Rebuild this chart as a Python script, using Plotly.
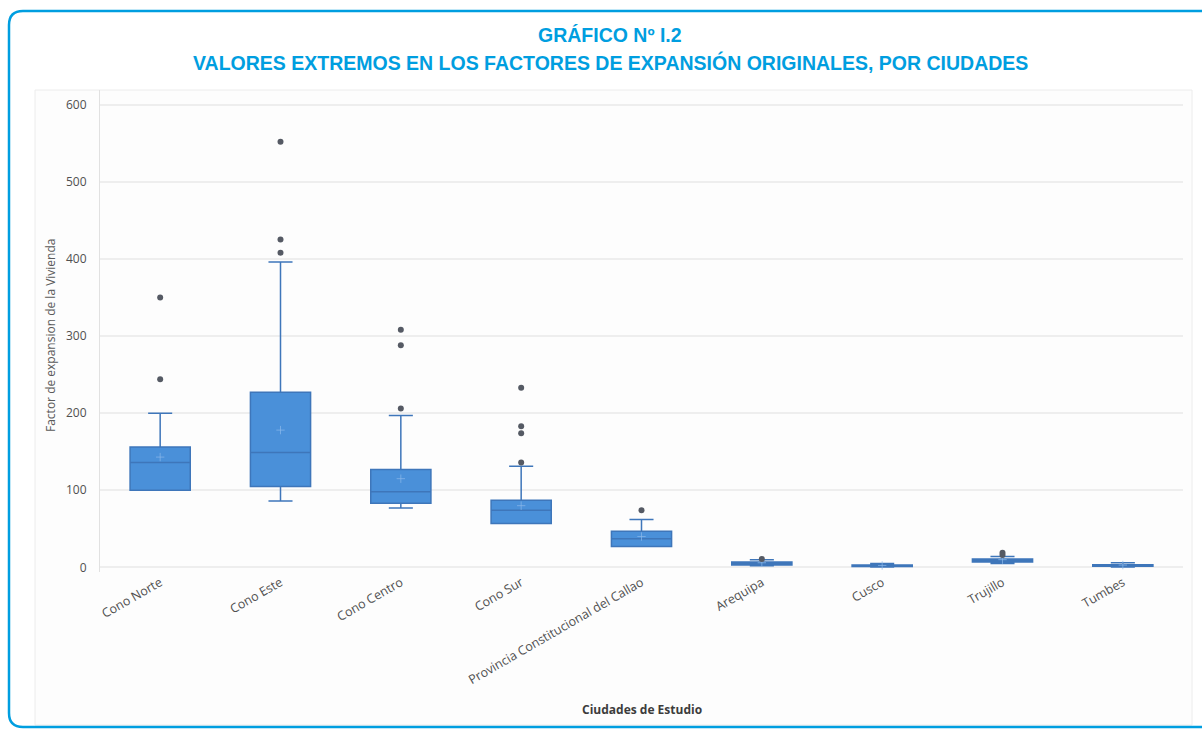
import plotly.graph_objects as go

# ---- data ----
categories = ["Cono Norte", "Cono Este", "Cono Centro", "Cono Sur",
              "Provincia Constitucional del Callao", "Arequipa", "Cusco",
              "Trujillo", "Tumbes"]
q1_vals      = [100, 105, 83, 57, 27, 3, 1, 7, 1.5]
median_vals  = [136, 149, 98, 74, 37, 5, 2, 9, 2.5]
q3_vals      = [156, 227, 127, 87, 47, 7, 3, 11, 3.5]
lower_vals   = [100, 86, 77, 57, 27, 2, 0.5, 5, 0.5]
upper_vals   = [200, 396, 197, 131, 62, 10, 5, 14, 6]
mean_vals    = [143, 178, 115, 80, 40, 6, 2.5, 10, 3]

outlier_cats = ["Cono Norte", "Cono Norte",
                "Cono Este", "Cono Este", "Cono Este",
                "Cono Centro", "Cono Centro", "Cono Centro",
                "Cono Sur", "Cono Sur", "Cono Sur", "Cono Sur",
                "Provincia Constitucional del Callao",
                "Arequipa", "Trujillo", "Trujillo"]
outlier_vals = [350, 244,
                552, 425, 408,
                308, 288, 206,
                233, 183, 174, 136,
                74,
                11, 19, 16]

title_line1 = "GRÁFICO Nº I.2"
title_line2 = "VALORES EXTREMOS EN LOS FACTORES DE EXPANSIÓN ORIGINALES, POR CIUDADES"
y_title = "Factor de expansion de la Vivienda"
x_title = "Ciudades de Estudio"
y_ticks = [0, 100, 200, 300, 400, 500, 600]

# ---- layout geometry (pixels) ----
W, H = 1202, 729
L, R, T, B = 100, 19, 90, 157
PW, PH = W - L - R, H - T - B


def px(x):
    return (x - L) / PW


def py(y):
    return (H - B - y) / PH


BLUE = "rgb(0,158,224)"
TXT_FONT = "Open Sans, sans-serif"

fig = go.Figure()

fig.add_trace(go.Box(
    x=categories,
    q1=q1_vals, median=median_vals, q3=q3_vals,
    lowerfence=lower_vals, upperfence=upper_vals,
    boxpoints=False,
    fillcolor="rgb(74,144,217)",
    line=dict(color="rgb(62,118,186)", width=1.5),
    whiskerwidth=0.4,
    width=0.5,
    showlegend=False,
    hoverinfo="skip",
))

fig.add_trace(go.Scatter(
    x=categories, y=mean_vals, mode="markers",
    marker=dict(symbol="cross-thin", size=6,
                line=dict(color="rgba(140,185,235,0.7)", width=1)),
    showlegend=False, hoverinfo="skip",
))

fig.add_trace(go.Scatter(
    x=outlier_cats, y=outlier_vals, mode="markers",
    marker=dict(color="rgb(85,90,100)", size=6),
    showlegend=False, hoverinfo="skip",
))

# frame with rounded corners (blue) and inner light panel
r = 14
x0, x1 = px(9), px(1215)
y0, y1 = py(11), py(727)
rx, ry = r / PW, r / PH
frame_path = (f"M {x0+rx},{y0} L {x1},{y0} M {x0+rx},{y0} "
              f"Q {x0},{y0} {x0},{y0-ry} L {x0},{y1+ry} "
              f"Q {x0},{y1} {x0+rx},{y1} L {x1},{y1}")

fig.update_layout(
    width=W, height=H,
    margin=dict(l=L, r=R, t=T, b=B),
    paper_bgcolor="white",
    plot_bgcolor="white",
    shapes=[
        dict(type="rect", xref="paper", yref="paper",
             x0=px(35), x1=px(1192), y0=py(90), y1=py(725),
             line=dict(color="rgb(236,236,236)", width=1),
             fillcolor="rgb(253,253,253)", layer="below"),
        dict(type="path", xref="paper", yref="paper", path=frame_path,
             line=dict(color=BLUE, width=2.5)),
    ],
    annotations=[
        dict(text=f"<b>{title_line1}</b>", xref="paper", yref="paper",
             x=px(610), y=py(35), showarrow=False,
             xanchor="center", yanchor="middle",
             font=dict(family="Liberation Sans Narrow, Arial Narrow, Liberation Sans, sans-serif",
                       size=19.5, color=BLUE)),
        dict(text=f"<b>{title_line2}</b>", xref="paper", yref="paper",
             x=px(610), y=py(63), showarrow=False,
             xanchor="center", yanchor="middle",
             font=dict(family="Liberation Sans Narrow, Arial Narrow, Liberation Sans, sans-serif",
                       size=19.5, color=BLUE)),
        dict(text=y_title, xref="paper", yref="paper",
             x=px(50), y=py(336), showarrow=False, textangle=-90,
             xanchor="center", yanchor="middle",
             font=dict(family=TXT_FONT, size=12, color="rgb(90,90,90)")),
        dict(text=f"<b>{x_title}</b>", xref="paper", yref="paper",
             x=px(642), y=py(710), showarrow=False,
             xanchor="center", yanchor="middle",
             font=dict(family=TXT_FONT, size=12, color="rgb(60,60,60)")),
    ],
)

fig.update_xaxes(
    type="category",
    range=[-0.5, 8.5],
    tickangle=-30,
    tickfont=dict(family=TXT_FONT, size=12.5, color="rgb(80,80,80)"),
    showgrid=False, zeroline=False, showline=False,
    ticks="",
)

fig.update_yaxes(
    range=[-6, 619],
    tickvals=y_ticks,
    tickfont=dict(family=TXT_FONT, size=12, color="rgb(80,80,80)"),
    showgrid=True, gridcolor="rgb(238,238,238)", gridwidth=1.5,
    zeroline=False,
    showline=True, linecolor="rgb(225,225,225)", linewidth=1,
    ticks="", ticklabelstandoff=10,
)

fig.write_html("out.html",
               config={"displayModeBar": False},
               post_script="document.body.style.margin='0';")
